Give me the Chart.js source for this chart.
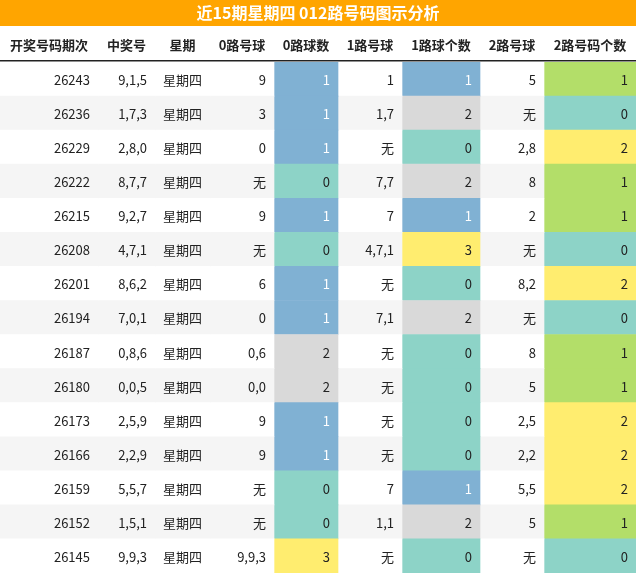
<!DOCTYPE html><html><head><meta charset="utf-8">
<script src="https://cdn.jsdelivr.net/npm/chart.js@4"></script>
<style>html,body{margin:0;padding:0;background:#fff}#w{width:636px;height:573px}</style></head><body>
<div id="w"><canvas id="c"></canvas></div>
<script>
const headers=["开奖号码期次","中奖号","星期","0路号球","0路球数","1路号球","1路球个数","2路号球","2路号码个数"];
const ids=["26243","26236","26229","26222","26215","26208","26201","26194","26187","26180","26173","26166","26159","26152","26145"];
const nums=["9,1,5","1,7,3","2,8,0","8,7,7","9,2,7","4,7,1","8,6,2","7,0,1","0,8,6","0,0,5","2,5,9","2,2,9","5,5,7","1,5,1","9,9,3"];
const weekday="星期四";
const r0=["9","3","0","无","9","无","6","0","0,6","0,0","9","9","无","无","9,9,3"];
const c0=[1,1,1,0,1,0,1,1,2,2,1,1,0,0,3];
const r1=["1","1,7","无","7,7","7","4,7,1","无","7,1","无","无","无","无","7","1,1","无"];
const c1=[1,2,0,2,1,3,0,2,0,0,0,0,1,2,0];
const r2=["5","无","2,8","8","2","无","8,2","无","8","5","2,5","2,2","5,5","5","无"];
const c2=[1,0,2,1,1,0,2,0,1,1,2,2,2,1,0];
const colW=[98,57,55,64,64,64,78,64,92];
const mapA={0:"#8DD3C7",1:"#80B1D3",2:"#D9D9D9",3:"#FFED6F"};
const mapC={0:"#8DD3C7",1:"#B3DE69",2:"#FFED6F",3:"#FFED6F"};
const rowBg=i=>i%2?"#F5F5F5":"#FFFFFF";
const cols=[ids,nums,ids.map(()=>weekday),r0,c0.map(String),r1,c1.map(String),r2,c2.map(String)];
function bg(ci,i){if(ci===4)return mapA[c0[i]];if(ci===6)return mapA[c1[i]];if(ci===8)return mapC[c2[i]];return rowBg(i);}
function fg(ci,i){if((ci===4&&c0[i]===1)||(ci===6&&c1[i]===1))return "#fff";return "#222";}
const datasets=colW.map((w,ci)=>({data:ids.map(()=>w),backgroundColor:ids.map((_,i)=>bg(ci,i)),borderWidth:0,barPercentage:1,categoryPercentage:1,stack:"s"}));
const F='"Noto Sans CJK SC","Noto Sans",sans-serif';
const deco={id:"deco",
 beforeDraw(ch){const x=ch.ctx;x.save();x.fillStyle="#fff";x.fillRect(0,0,ch.width,ch.height);
  x.fillStyle="#FFA500";x.fillRect(0,0,ch.width,26);
  x.fillStyle="#fff";x.font="bold 16px "+F;x.textAlign="center";x.textBaseline="middle";
  x.fillText("近15期星期四 012路号码图示分析",ch.width/2,13);
  let l=0;x.fillStyle="#222";x.font="bold 13px "+F;
  colW.forEach((w,ci)=>{x.fillText(headers[ci],l+w/2,45);l+=w;});
  x.fillStyle="#222";x.fillRect(0,60,ch.width,1.5);x.restore();},
 afterDatasetsDraw(ch){const x=ch.ctx;x.save();x.font="13px "+F;x.textAlign="right";x.textBaseline="middle";
  ch.data.datasets.forEach((d,ci)=>{ch.getDatasetMeta(ci).data.forEach((el,i)=>{
   x.fillStyle=fg(ci,i);const xr=Math.max(el.x,el.base);x.fillText(cols[ci][i],xr-ci===2?xr-8:xr-8,el.y+1);});});
  x.restore();}};
new Chart(document.getElementById("c"),{type:"bar",data:{labels:ids,datasets},
 options:{indexAxis:"y",responsive:true,maintainAspectRatio:false,animation:false,
  layout:{padding:{top:62,left:0,right:0,bottom:0}},
  plugins:{legend:{display:false},tooltip:{enabled:false}},
  scales:{x:{display:false,min:0,max:636,stacked:true},y:{display:false,stacked:true}}},
 plugins:[deco]});
</script></body></html>
